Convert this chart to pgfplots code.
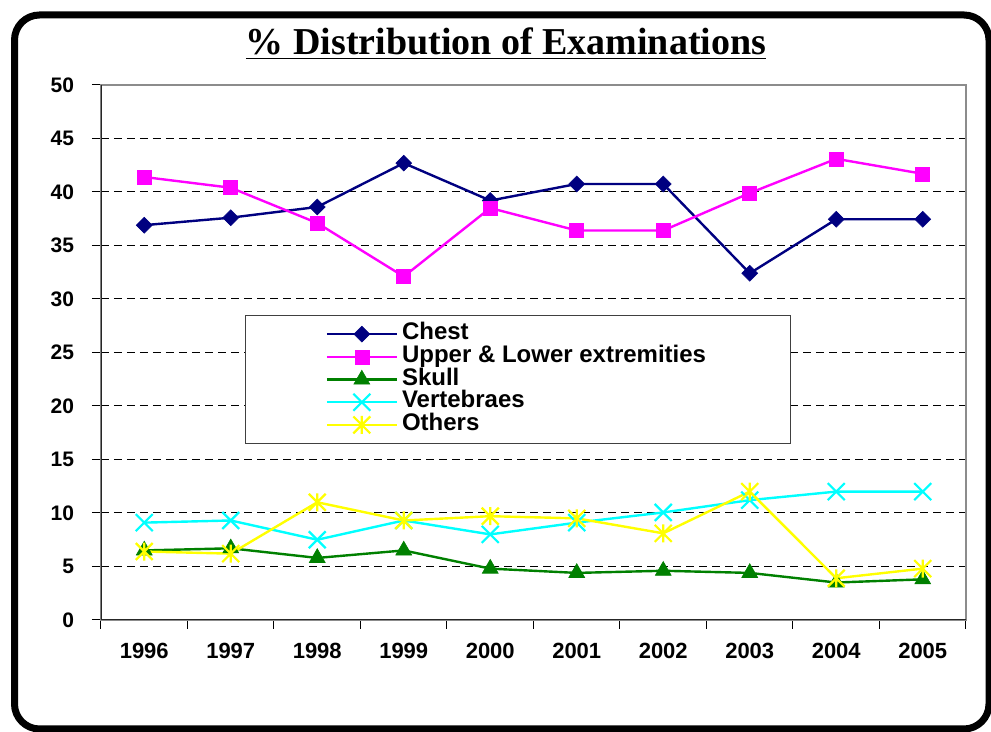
\documentclass[border=0pt]{standalone}
\usepackage{fontspec}
\setmainfont{Liberation Sans}
\newfontfamily\titlefont{Liberation Serif}
\usepackage{pgfplots}
\pgfplotsset{compat=1.18}
\definecolor{cnavy}{RGB}{0,0,128}
\definecolor{cmag}{RGB}{255,0,255}
\definecolor{cgreen}{RGB}{0,128,0}
\definecolor{ccyan}{RGB}{0,255,255}
\definecolor{cyel}{RGB}{255,255,0}
\pgfdeclareplotmark{xstar}{%
  \pgfpathmoveto{\pgfqpoint{-0.7071\pgfplotmarksize}{-0.7071\pgfplotmarksize}}%
  \pgfpathlineto{\pgfqpoint{0.7071\pgfplotmarksize}{0.7071\pgfplotmarksize}}%
  \pgfpathmoveto{\pgfqpoint{-0.7071\pgfplotmarksize}{0.7071\pgfplotmarksize}}%
  \pgfpathlineto{\pgfqpoint{0.7071\pgfplotmarksize}{-0.7071\pgfplotmarksize}}%
  \pgfpathmoveto{\pgfqpoint{0pt}{0.75\pgfplotmarksize}}%
  \pgfpathlineto{\pgfqpoint{0pt}{-0.75\pgfplotmarksize}}%
  \pgfusepathqstroke
}
\begin{document}
\begin{tikzpicture}
\useasboundingbox (0,0) rectangle (495.5pt,366pt);
\draw[line width=3.5pt, rounded corners=12.5pt] (7.25pt,1.5pt) rectangle (494.5pt,358.5pt);
\node[anchor=base, inner sep=0pt, font=\titlefont\bfseries\fontsize{19}{22}\selectfont] at (253pt,338.5pt) {\underline{\% Distribution of Examinations}};
\begin{axis}[
  at={(50.5pt,56pt)}, anchor=south west, scale only axis,
  width=432.5pt, height=267.5pt,
  xmin=-0.5, xmax=9.5, ymin=0, ymax=50,
  ytick={0,5,...,50},
  xtick={-0.5,0.5,...,9.5}, xticklabels={},
  extra x ticks={0,1,2,3,4,5,6,7,8,9},
  extra x tick labels={1996,1997,1998,1999,2000,2001,2002,2003,2004,2005},
  extra x tick style={major tick length=0pt, grid=none},
  tick align=outside, major tick length=4.5pt, tick pos=left,
  tick style={black, line width=0.5pt},
  ymajorgrids, grid style={black, dash pattern=on 4pt off 2.5pt, line width=0.5pt},
  axis line style={draw=gray!90, line width=0.9pt},
  /pgf/number format/assume math mode=true,
  yticklabel style={font=\bfseries\fontsize{10.5}{12}\selectfont, xshift=-5.5pt},
  xticklabel style={font=\bfseries\fontsize{11}{13}\selectfont, yshift=-8pt},
  legend style={at={(0.1665,0.5701)}, anchor=north west, draw=black!75, line width=0.6pt,
    inner xsep=40pt, inner ysep=3.6pt, font=\bfseries\fontsize{12}{14}\selectfont,
    nodes={inner ysep=0pt, text height=8.5pt, text depth=2.85pt}, row sep=0pt},
  legend cell align=left,
  legend image code/.code={\draw[mark repeat=2,mark phase=2,#1] plot coordinates {(0pt,0pt) (17.5pt,0pt) (35pt,0pt)};},
]
\addplot[color=cnavy, line width=1.2pt, mark=square*, mark size=2.8pt, mark options={rotate=45, line width=0.3pt, fill=cnavy}]
  coordinates {(0,36.9) (1,37.6) (2,38.6) (3,42.7) (4,39.2) (5,40.75) (6,40.75) (7,32.4) (8,37.45) (9,37.45)};
\addlegendentry{Chest}
\addplot[color=cmag, line width=1.2pt, mark=square*, mark size=3.5pt, mark options={line width=0.3pt, fill=cmag}]
  coordinates {(0,41.4) (1,40.4) (2,37.1) (3,32.1) (4,38.5) (5,36.4) (6,36.4) (7,39.9) (8,43.1) (9,41.7)};
\addlegendentry{Upper \& Lower extremities}
\addplot[color=cgreen, line width=1.2pt, mark=triangle*, mark size=4.6pt, mark options={line width=0.3pt, fill=cgreen}]
  coordinates {(0,6.5) (1,6.7) (2,5.8) (3,6.5) (4,4.8) (5,4.4) (6,4.6) (7,4.4) (8,3.5) (9,3.8)};
\addlegendentry{Skull}
\addplot[color=ccyan, line width=1.2pt, mark=x, mark size=6pt, mark options={line width=1.1pt}]
  coordinates {(0,9.1) (1,9.3) (2,7.5) (3,9.3) (4,8.0) (5,9.1) (6,10.05) (7,11.2) (8,12.0) (9,12.0)};
\addlegendentry{Vertebraes}
\addplot[color=cyel, line width=1.2pt, mark=xstar, mark size=6pt, mark options={line width=1.1pt}]
  coordinates {(0,6.4) (1,6.2) (2,11.0) (3,9.3) (4,9.7) (5,9.5) (6,8.1) (7,12.0) (8,3.9) (9,4.8)};
\addlegendentry{Others}
\draw[black!85, line width=0.9pt] (rel axis cs:0,1) -- (rel axis cs:0,0) -- (rel axis cs:1,0);
\end{axis}
\end{tikzpicture}
\end{document}
